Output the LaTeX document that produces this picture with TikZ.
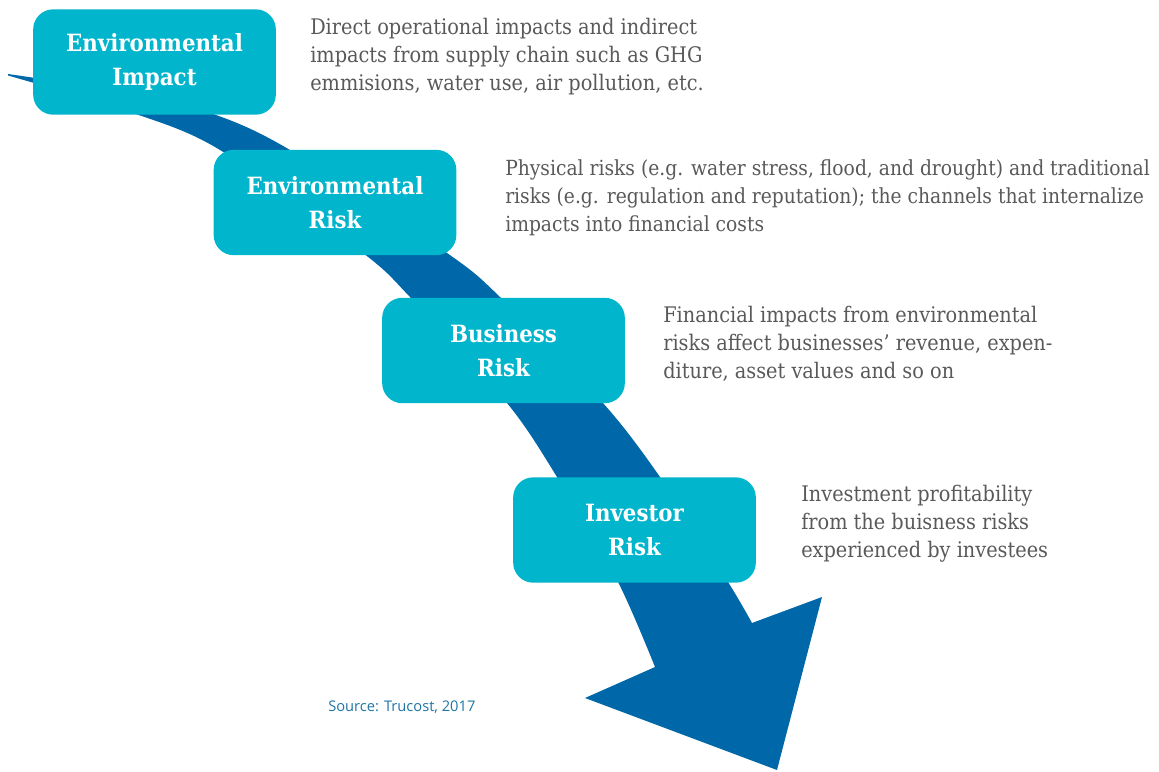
\documentclass[tikz,border=0pt]{standalone}
\usepackage{fontspec}
\setmainfont{DejaVu Serif Condensed}
\newfontfamily\srcfont{Open Sans}
\definecolor{boxcyan}{HTML}{00B5CC}
\definecolor{flowblue}{HTML}{0068A8}
\definecolor{descgray}{HTML}{595959}
\definecolor{srcblue}{HTML}{1F74A6}

\begin{document}
\begin{tikzpicture}[x=0.75pt,y=-0.75pt,
  riskbox/.style={rectangle, rounded corners=15pt, fill=boxcyan, text=white,
    minimum width=182pt, minimum height=79pt, align=center,
    font=\bfseries\fontsize{17.8}{25}\selectfont},
  desc/.style={anchor=north west, inner sep=0pt, align=left, text=descgray,
    font=\fontsize{16.1}{21}\selectfont},
  src/.style={anchor=base west, inner sep=0pt, text=srcblue,
    font=\srcfont\fontsize{11}{13}\selectfont}]
  \useasboundingbox (0,0) rectangle (1159,771);

  % Draw the curved band with its arrow head
  \fill[flowblue]
    plot[smooth] coordinates {(8,74) (110,90) (210,113) (290,150) (447,253)
      (500,297) (603,403) (660,477) (728,582) (752,623)}
    -- (822,597) -- (777,770) -- (585,698) -- (655,667)
    -- plot[smooth] coordinates {(655,667) (618,582) (557,477) (507,403)
      (410,297) (363,253) (220,150) (133,113) (8,75.5)}
    -- cycle;

  % The four risk boxes
  \node[riskbox] (envimpact) at (154.5,62) {Environmental\\Impact};
  \node[riskbox] (envrisk) at (335,202.5) {Environmental\\Risk};
  \node[riskbox] (busrisk) at (503.5,350.5) {Business\\Risk};
  \node[riskbox] (invrisk) at (634.5,530) {Investor\\Risk};

  % Descriptions next to the boxes
  \node[desc] (impactnote) at (310,18) {Direct operational impacts and indirect\\
    impacts from supply chain such as GHG\\emmisions, water use, air pollution, etc.};
  \node[desc, font=\fontsize{15.6}{21}\selectfont] (risknote) at (505,159) {Physical risks (e.g. water stress, flood, and drought) and traditional\\
    risks (e.g. regulation and reputation); the channels that internalize\\impacts into financial costs};
  \node[desc] (busnote) at (663,306) {Financial impacts from environmental\\
    risks affect businesses’ revenue, expen-\\diture, asset values and so on};
  \node[desc] (invnote) at (801,485) {Investment profitability\\
    from the buisness risks\\experienced by investees};

  \node[src] (source) at (328,711) {Source: Trucost, 2017};
\end{tikzpicture}
\end{document}
